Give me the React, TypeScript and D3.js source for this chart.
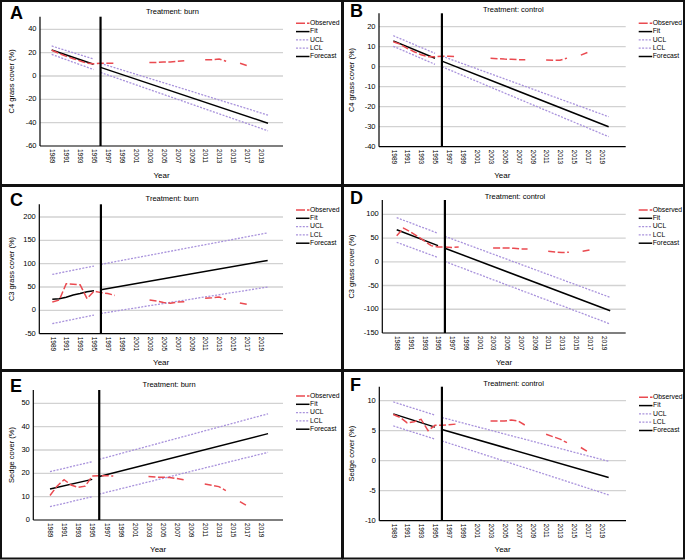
import * as d3 from "d3";

const FONT = "'Liberation Sans', Arial, Helvetica, sans-serif";
const RED = "#ea4a50";
const PURPLE = "#a993dc";
const GRID = "#d2d2d2";

type Pt = [number, number];

// years with an observed value (gaps between the survey periods)
const OBS_YEARS = [
  1989, 1990, 1991, 1992, 1993, 1994, 1995, 1996, 1997, 1998, 2003, 2004, 2005,
  2006, 2007, 2008, 2011, 2012, 2013, 2014, 2016, 2017,
];
const X_TICKS = [
  1989, 1991, 1993, 1995, 1997, 1999, 2001, 2003, 2005, 2007, 2009, 2011, 2013,
  2015, 2017, 2019,
];
const CUT_YEAR = 1996;
const LEGEND_ITEMS = ["Observed", "Fit", "UCL", "LCL", "Forecast"];

// A: C4 grass, burn
const A_TICKS = [40, 20, 0, -20, -40, -60];
const A_OBS = [22, 19.5, 17, 15, 13, 11, 10.5, 11, 11, 11, 11.5, 11.5, 12, 12, 12.5, 13, 14, 14, 14.6, 12.6, 10.9, 8.9];
const A_FIT: Pt[] = [[1989, 22.3], [1995, 10]];
const A_FORECAST: Pt[] = [[1996, 7.4], [2020, -40.5]];
const A_UCL: Pt[][] = [[[1989, 25.7], [1995, 14.5]], [[1996, 10.9], [2020, -33.5]]];
const A_LCL: Pt[][] = [[[1989, 18.5], [1995, 5.5]], [[1996, 3], [2020, -47]]];

// B: C4 grass, control
const B_TICKS = [20, 10, 0, -10, -20, -30, -40];
const B_OBS = [12.5, 11.2, 9.2, 7.5, 6, 5, 5, 5.2, 5.2, 5, 4.2, 4, 3.8, 3.7, 3.5, 3.5, 3.3, 3.2, 3.2, 4.3, 5.8, 7.2];
const B_FIT: Pt[] = [[1989, 12.9], [1995, 4.2]];
const B_FORECAST: Pt[] = [[1996, 2.8], [2020, -30]];
const B_UCL: Pt[][] = [[[1989, 15.5], [1995, 6.7]], [[1996, 5.3], [2020, -25]]];
const B_LCL: Pt[][] = [[[1989, 10.2], [1995, 1.2]], [[1996, 0], [2020, -35]]];

// C: C3 grass, burn
const C_TICKS = [200, 150, 100, 50, 0, -50];
const C_OBS = [18, 22, 57, 56, 55, 25, 41, 38, 36, 32, 22, 20, 17, 15, 18, 18.5, 26, 27, 28.5, 23.5, 16, 13];
const C_FIT: Pt[] = [[1989, 24], [1990, 25], [1991, 28], [1992, 33], [1993, 36], [1994, 40], [1995, 42]];
const C_FORECAST: Pt[] = [[1996, 44], [2020, 107]];
const C_UCL: Pt[][] = [[[1989, 77], [1995, 95]], [[1996, 98.5], [2020, 166]]];
const C_LCL: Pt[][] = [[[1989, -28.5], [1995, -10]], [[1996, -6.5], [2020, 50]]];

// D: C3 grass, control
const D_TICKS = [100, 50, 0, -50, -100, -150];
const D_OBS = [55, 71, 63, 54, 44, 34, 31, 31, 30, 31, 29, 29, 29, 28.5, 27, 27, 22, 20.5, 19.5, 20, 22, 25];
const D_FIT: Pt[] = [[1989, 67.6], [1995, 34]];
const D_FORECAST: Pt[] = [[1996, 28.5], [2020, -103]];
const D_UCL: Pt[][] = [[[1989, 93], [1995, 60]], [[1996, 53.6], [2020, -75]]];
const D_LCL: Pt[][] = [[[1989, 41], [1995, 9]], [[1996, 0.6], [2020, -131]]];

// E: sedge, burn
const E_TICKS = [50, 40, 30, 20, 10, 0];
const E_OBS = [10.5, 14.5, 17.3, 15, 14, 14.5, 18.8, 19, 19, 18.8, 18.6, 18.4, 18.3, 18.2, 17.8, 17.2, 15.4, 14.9, 14.3, 12.6, 7.9, 6.1];
const E_FIT: Pt[] = [[1989, 13.3], [1995, 17.4]];
const E_FORECAST: Pt[] = [[1996, 18.6], [2020, 37]];
const E_UCL: Pt[][] = [[[1989, 20.7], [1995, 25]], [[1996, 26], [2020, 45.5]]];
const E_LCL: Pt[][] = [[[1989, 5.7], [1995, 10]], [[1996, 11.1], [2020, 29]]];

// F: sedge, control
const F_TICKS = [10, 5, 0, -5, -10];
const F_OBS = [7.7, 7.2, 6.3, 6.5, 6.9, 5.0, 5.9, 5.9, 6.0, 6.1, 6.6, 6.6, 6.6, 6.8, 6.6, 5.9, 4.4, 4.0, 3.6, 3.0, 2.2, 1.5];
const F_FIT: Pt[] = [[1989, 7.8], [1995, 5.6]];
const F_FORECAST: Pt[] = [[1996, 5.2], [2020, -2.8]];
const F_UCL: Pt[][] = [[[1989, 9.8], [1995, 7.6]], [[1996, 7.2], [2020, -0.1]]];
const F_LCL: Pt[][] = [[[1989, 5.8], [1995, 3.6]], [[1996, 3.3], [2020, -5.7]]];

type PanelData = {
  letter: string;
  title: string;
  yLabel: string;
  ticks: number[];
  obs: number[];
  fit: Pt[];
  forecast: Pt[];
  ucl: Pt[][];
  lcl: Pt[][];
};

// layout in panel-local pixels
type PanelLayout = {
  ox: number;
  oy: number;
  left: number;
  right: number;
  top: number;
  bottom: number;
  topTickPx: number;
  x0: number; // 1989
  x1: number; // 2019
  titleY: number;
  legendY: number;
};

const PANELS: [PanelData, PanelLayout][] = [
  [
    { letter: "A", title: "Treatment: burn", yLabel: "C4 grass cover (%)", ticks: A_TICKS, obs: A_OBS, fit: A_FIT, forecast: A_FORECAST, ucl: A_UCL, lcl: A_LCL },
    { ox: 0, oy: 0, left: 40, right: 283, top: 16.7, bottom: 146, topTickPx: 29.3, x0: 51.7, x1: 261, titleY: 12.3, legendY: 23.3 },
  ],
  [
    { letter: "B", title: "Treatment: control", yLabel: "C4 grass cover (%)", ticks: B_TICKS, obs: B_OBS, fit: B_FIT, forecast: B_FORECAST, ucl: B_UCL, lcl: B_LCL },
    { ox: 340, oy: 0, left: 39, right: 285.7, top: 13.3, bottom: 146.7, topTickPx: 26.7, x0: 53.3, x1: 261.7, titleY: 10, legendY: 23.3 },
  ],
  [
    { letter: "C", title: "Treatment: burn", yLabel: "C3 grass cover (%)", ticks: C_TICKS, obs: C_OBS, fit: C_FIT, forecast: C_FORECAST, ucl: C_UCL, lcl: C_LCL },
    { ox: 0, oy: 185, left: 39.3, right: 283, top: 19.3, bottom: 148.7, topTickPx: 32, x0: 52.3, x1: 260.7, titleY: 14, legendY: 25 },
  ],
  [
    { letter: "D", title: "Treatment: control", yLabel: "C3 grass cover (%)", ticks: D_TICKS, obs: D_OBS, fit: D_FIT, forecast: D_FORECAST, ucl: D_UCL, lcl: D_LCL },
    { ox: 340, oy: 185, left: 42.3, right: 285.7, top: 15, bottom: 148, topTickPx: 29.3, x0: 56.7, x1: 263.3, titleY: 12.3, legendY: 25 },
  ],
  [
    { letter: "E", title: "Treatment: burn", yLabel: "Sedge cover (%)", ticks: E_TICKS, obs: E_OBS, fit: E_FIT, forecast: E_FORECAST, ucl: E_UCL, lcl: E_LCL },
    { ox: 0, oy: 370, left: 33.3, right: 283, top: 20, bottom: 150, topTickPx: 33.3, x0: 50, x1: 261, titleY: 15, legendY: 26 },
  ],
  [
    { letter: "F", title: "Treatment: control", yLabel: "Sedge cover (%)", ticks: F_TICKS, obs: F_OBS, fit: F_FIT, forecast: F_FORECAST, ucl: F_UCL, lcl: F_LCL },
    { ox: 340, oy: 370, left: 39.3, right: 286, top: 16.7, bottom: 150.7, topTickPx: 30.7, x0: 53.3, x1: 261.7, titleY: 14, legendY: 27.3 },
  ],
];

const OBS_DASH = "7,2.5";
const CI_DASH = "2,1.4";

function obsSegments(values: number[]): Pt[][] {
  const segs: Pt[][] = [];
  let cur: Pt[] = [];
  OBS_YEARS.forEach((yr, i) => {
    if (i > 0 && yr - OBS_YEARS[i - 1] > 1) {
      segs.push(cur);
      cur = [];
    }
    cur.push([yr, values[i]]);
  });
  segs.push(cur);
  return segs;
}

function Panel({ data, lay }: { data: PanelData; lay: PanelLayout }) {
  const ticks = data.ticks;
  const yScale = d3
    .scaleLinear()
    .domain([ticks[ticks.length - 1], ticks[0]])
    .range([lay.bottom, lay.topTickPx]);
  const xScale = d3.scaleLinear().domain([1989, 2019]).range([lay.x0, lay.x1]);
  const line = d3
    .line<Pt>()
    .x((d) => xScale(d[0]))
    .y((d) => yScale(d[1]));

  const cutX = xScale(CUT_YEAR);
  const midX = (lay.left + lay.right) / 2;
  const midY = (lay.top + lay.bottom) / 2;

  return (
    <g transform={`translate(${lay.ox},${lay.oy})`}>
      <text x={10} y={lay.titleY + 6.5} fontSize={18} fontWeight="bold" fontFamily={FONT}>
        {data.letter}
      </text>
      <text x={midX + 11} y={lay.titleY} fontSize={7.5} fontFamily={FONT} textAnchor="middle" dominantBaseline="middle">
        {data.title}
      </text>

      {/* grid */}
      {ticks.slice(0, -1).map((t) => (
        <line key={t} x1={lay.left} x2={lay.right} y1={yScale(t)} y2={yScale(t)} stroke={GRID} strokeWidth={1.3} />
      ))}
      {ticks.map((t) => (
        <text key={"l" + t} x={lay.left - 3.5} y={yScale(t)} fontSize={7.5} fontFamily={FONT} textAnchor="end" dominantBaseline="middle">
          {t}
        </text>
      ))}
      {X_TICKS.map((yr) => (
        <text
          key={yr}
          transform={`translate(${xScale(yr)},${lay.bottom + 3}) rotate(90)`}
          fontSize={6.5}
          fontFamily={FONT}
          dominantBaseline="middle"
        >
          {yr}
        </text>
      ))}

      {/* series */}
      {[...data.ucl, ...data.lcl].map((seg, i) => (
        <path key={"ci" + i} d={line(seg) ?? undefined} fill="none" stroke={PURPLE} strokeWidth={1.3} strokeDasharray={CI_DASH} />
      ))}
      <path d={line(data.fit) ?? undefined} fill="none" stroke="#000" strokeWidth={1.5} />
      <path d={line(data.forecast) ?? undefined} fill="none" stroke="#000" strokeWidth={1.5} />
      {obsSegments(data.obs).map((seg, i) => (
        <path key={"o" + i} d={line(seg) ?? undefined} fill="none" stroke={RED} strokeWidth={1.5} strokeDasharray={OBS_DASH} />
      ))}

      {/* axes */}
      <line x1={lay.left} x2={lay.right} y1={lay.bottom} y2={lay.bottom} stroke="#000" strokeWidth={1.2} />
      <line x1={lay.left} x2={lay.left} y1={lay.top} y2={lay.bottom} stroke="#000" strokeWidth={1.2} />
      <line x1={cutX} x2={cutX} y1={lay.top} y2={lay.bottom} stroke="#000" strokeWidth={2.2} />

      <text
        transform={`translate(${12.3},${midY}) rotate(-90)`}
        fontSize={7.5}
        fontFamily={FONT}
        textAnchor="middle"
        dominantBaseline="middle"
      >
        {data.yLabel}
      </text>
      <text x={midX} y={lay.bottom + 31.5} fontSize={8} fontFamily={FONT} textAnchor="middle">
        Year
      </text>

      {/* legend */}
      {LEGEND_ITEMS.map((name, i) => {
        const ly = lay.legendY + i * 8.3;
        const lx = lay.right + 13;
        const isObs = name === "Observed";
        const isCi = name === "UCL" || name === "LCL";
        return (
          <g key={name}>
            <line
              x1={lx}
              x2={lx + 13.5}
              y1={ly}
              y2={ly}
              stroke={isObs ? RED : isCi ? PURPLE : "#000"}
              strokeWidth={isObs || !isCi ? 1.5 : 1.3}
              strokeDasharray={isObs ? "9,2" : isCi ? CI_DASH : undefined}
            />
            <text x={lx + 14} y={ly} fontSize={6.8} fontFamily={FONT} dominantBaseline="middle">
              {name}
            </text>
          </g>
        );
      })}
    </g>
  );
}

const FRAMES = [
  [1, 1, 341, 184],
  [343, 1, 341, 184],
  [1, 186, 341, 184],
  [343, 186, 341, 184],
  [1, 371, 341, 187.5],
  [343, 371, 341, 187.5],
];

export default function App() {
  return (
    <svg
      width={685}
      height={560}
      style={{ position: "absolute", left: 0, top: 0, background: "#fff" }}
      xmlns="http://www.w3.org/2000/svg"
    >
      <rect width={685} height={560} fill="#fff" />
      {PANELS.map(([data, lay]) => (
        <Panel key={data.letter} data={data} lay={lay} />
      ))}
      {FRAMES.map(([x, y, w, h], i) => (
        <rect key={i} x={x} y={y} width={w} height={h} fill="none" stroke="#111" strokeWidth={2} />
      ))}
    </svg>
  );
}
